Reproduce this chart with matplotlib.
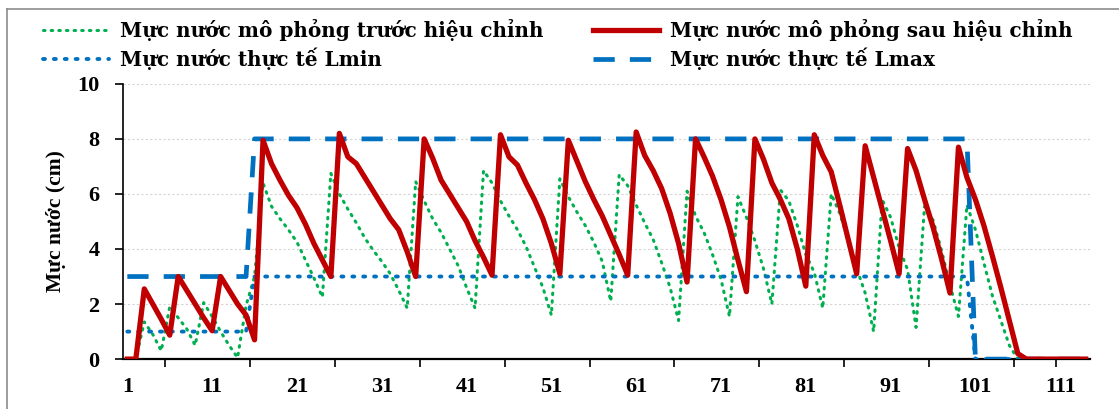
import matplotlib
matplotlib.use("Agg")
import matplotlib.pyplot as plt
from matplotlib.lines import Line2D

# categories 1..114 (time steps)
steps = list(range(1, 115))

# simulated level before calibration (green dotted)
before_cal = [
    0, 0, 1.35, 0.9, 0.3, 1.9, 1.5, 1.1, 0.5, 2.05,
    1.55, 1.0, 0.5, 0.05, 1.95, 3.0, 6.4, 5.55, 5.1, 4.7,
    4.25, 3.6, 2.95, 2.25, 6.75, 6.0, 5.45, 4.95, 4.4, 3.95,
    3.55, 3.1, 2.5, 1.85, 6.45, 5.75, 5.1, 4.6, 4.0, 3.4,
    2.6, 1.85, 6.85, 6.4, 5.75, 5.2, 4.7, 4.1, 3.35, 2.6,
    1.6, 6.55, 5.9, 5.35, 4.85, 4.25, 3.55, 2.1, 6.7, 6.3,
    5.6, 4.95, 4.35, 3.5, 2.6, 1.4, 6.1, 5.2, 4.6, 3.8,
    2.9, 1.55, 5.9, 5.15, 4.3, 3.3, 2.0, 6.15, 5.75, 4.85,
    3.8, 3.15, 1.85, 6.0, 5.3, 4.35, 3.3, 2.4, 1.0, 5.8,
    5.15, 4.05, 3.25, 1.15, 5.55, 5.05, 3.95, 2.7, 1.55, 5.6,
    4.7, 3.5, 2.3, 1.4, 0.5, 0, 0, 0, 0, 0,
    0, 0, 0, 0,
]

# simulated level after calibration (red solid)
after_cal = [
    0, 0, 2.55, 2.0, 1.45, 0.87, 3.0, 2.5, 2.0, 1.5,
    1.03, 3.0, 2.5, 2.0, 1.6, 0.7, 7.95, 7.1, 6.5, 5.95,
    5.5, 4.9, 4.2, 3.6, 3.0, 8.2, 7.35, 7.1, 6.6, 6.1,
    5.6, 5.1, 4.7, 3.9, 3.0, 8.0, 7.3, 6.5, 6.0, 5.5,
    5.0, 4.3, 3.7, 3.05, 8.15, 7.35, 7.05, 6.4, 5.8, 5.1,
    4.2, 3.1, 7.95, 7.2, 6.45, 5.8, 5.2, 4.5, 3.8, 3.05,
    8.25, 7.4, 6.85, 6.2, 5.3, 4.2, 2.8, 8.0, 7.35, 6.65,
    5.8, 4.8, 3.6, 2.45, 8.0, 7.27, 6.4, 5.8, 5.1, 4.0,
    2.65, 8.15, 7.4, 6.8, 5.6, 4.35, 3.1, 7.75, 6.6, 5.45,
    4.3, 3.1, 7.65, 6.85, 5.8, 4.8, 3.65, 2.4, 7.7, 6.6,
    5.8, 4.85, 3.75, 2.6, 1.4, 0.2, 0, 0, 0, 0,
    0, 0, 0, 0,
]

# measured limits
l_min = [1] * 15 + [3] * 85 + [0] * 14
l_max = [3] * 15 + [8] * 85 + [0] * 14

labels = ["Mực nước mô phỏng trước hiệu chỉnh", "Mực nước thực tế Lmin",
          "Mực nước mô phỏng sau hiệu chỉnh", "Mực nước thực tế Lmax"]

plt.rcParams['font.family'] = ['Liberation Serif', 'DejaVu Serif']
plt.rcParams['font.weight'] = 'bold'

fig = plt.figure(figsize=(11.19, 4.09), dpi=100)
ax = fig.add_axes([0.110, 0.122, 0.864, 0.673])

green, = ax.plot(steps, before_cal, color='#00B050', lw=2.2, linestyle=(0, (0.5, 2.0)),
                 dash_capstyle='round', zorder=3)
lmin, = ax.plot(steps, l_min, color='#0070C0', lw=2.8, linestyle=(0, (0.5, 2.3)),
                dash_capstyle='round', zorder=4)
red, = ax.plot(steps, after_cal, color='#C00000', lw=3.8, zorder=5)
lmax, = ax.plot(steps, l_max, color='#0070C0', lw=3.4, linestyle=(0, (4.5, 3.2)), zorder=4)

ax.set_xlim(0.5, 114.5)
ax.set_ylim(0, 10)
ax.set_yticks(range(0, 11, 2))
ax.set_xticks(range(1, 115, 10))
ax.set_xticks([5.5 + 10 * k for k in range(11)] + [110.5], minor=True)
ax.tick_params(axis='x', which='major', length=0, pad=13, labelsize=16)
ax.tick_params(axis='x', which='minor', length=6, width=1.2, direction='out')
ax.tick_params(axis='y', length=6, width=1.2, labelsize=16, pad=11)

ax.grid(axis='y', color='#d4d4d4', lw=0.8, linestyle=(0, (2, 2)))
ax.set_axisbelow(True)
for side in ['top', 'right']:
    ax.spines[side].set_visible(False)
ax.spines['left'].set_linewidth(1.2)
ax.spines['bottom'].set_linewidth(1.6)

ax.set_ylabel("Mực nước (cm)", fontsize=15.5, fontweight='bold', labelpad=8)

fig.legend([green, lmin, red, lmax], labels, ncol=2, loc='upper left',
           bbox_to_anchor=(0.031, 0.973), frameon=False,
           prop={'family': 'DejaVu Serif', 'weight': 'bold', 'size': 14.4},
           handlelength=3.3, handletextpad=0.55, columnspacing=2.5,
           labelspacing=0.3, borderaxespad=0)

# chart area border (only top and left edges visible)
fig.add_artist(Line2D([7 / 1119, 7 / 1119], [0, 1 - 9 / 409], color='#8c8c8c', lw=1.2))
fig.add_artist(Line2D([7 / 1119, 1], [1 - 9 / 409, 1 - 9 / 409], color='#8c8c8c', lw=1.2))

fig.savefig("out.png", dpi=100)
